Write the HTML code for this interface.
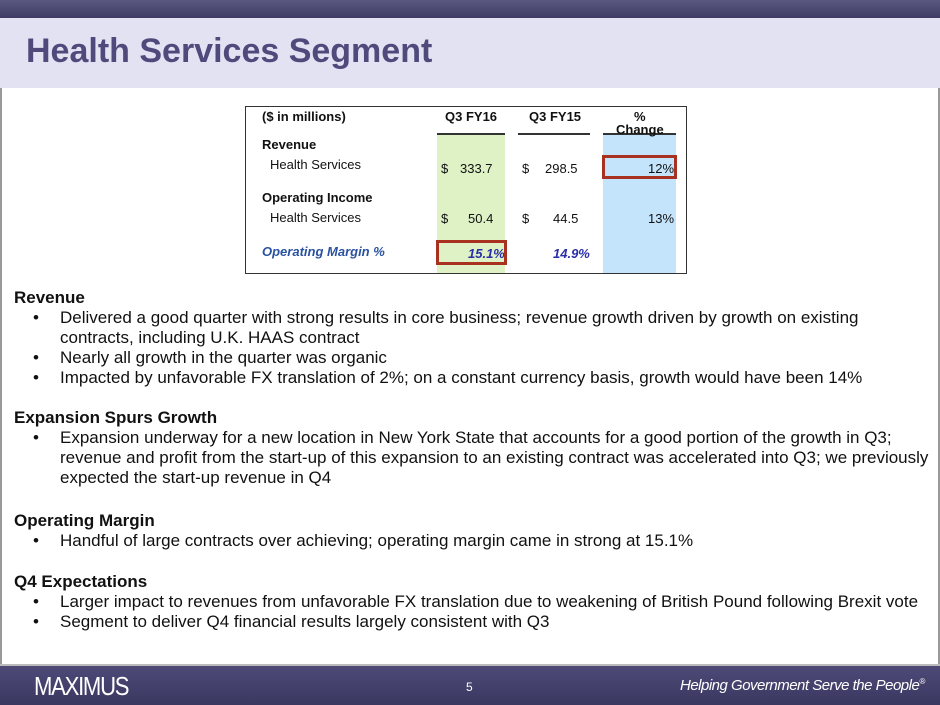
<!DOCTYPE html>
<html><head><style>
*{margin:0;padding:0;box-sizing:border-box}
body{width:940px;height:705px;position:relative;background:#fff;font-family:"Liberation Sans",Arial,sans-serif;overflow:hidden}
.a{position:absolute;white-space:nowrap}
.t{font-size:13px;color:#111}
.b{font-weight:bold}
.body{font-size:17px;color:#111}
</style></head><body>
<div class="a" style="left:0;top:0;width:940px;height:705px;border-left:2px solid #999;border-right:2px solid #999"></div>
<div class="a" style="left:0;top:0;width:940px;height:18px;background:linear-gradient(#5a5880,#3e3b64)"></div>
<div class="a" style="left:0;top:18px;width:940px;height:70px;background:#e3e2f3"></div>
<div class="a b" style="left:26px;top:32px;font-size:34px;color:#504a7c">Health Services Segment</div>

<div class="a" style="left:245px;top:106px;width:442px;height:168px;border:1.5px solid #333"></div>
<div class="a" style="left:437px;top:135px;width:68px;height:138px;background:#def2c6"></div>
<div class="a" style="left:603px;top:135px;width:73px;height:138px;background:#c4e4fc"></div>
<div class="a" style="left:437px;top:133px;width:68px;height:2px;background:#333"></div>
<div class="a" style="left:518px;top:133px;width:72px;height:2px;background:#333"></div>
<div class="a" style="left:603px;top:133px;width:73px;height:2px;background:#333"></div>
<div class="a t b" style="left:262px;top:109px">($ in millions)</div>
<div class="a t b" style="left:445px;top:109px">Q3 FY16</div>
<div class="a t b" style="left:529px;top:109px">Q3 FY15</div>
<div class="a t b" style="left:634px;top:109px">%</div>
<div class="a t b" style="left:616px;top:122px">Change</div>
<div class="a t b" style="left:262px;top:137px">Revenue</div>
<div class="a t" style="left:270px;top:157px">Health Services</div>
<div class="a t" style="left:441px;top:161px">$</div>
<div class="a t" style="left:460px;top:161px">333.7</div>
<div class="a t" style="left:522px;top:161px">$</div>
<div class="a t" style="left:545px;top:161px">298.5</div>
<div class="a t" style="left:648px;top:161px">12%</div>
<div class="a" style="left:602px;top:155px;width:75px;height:24px;border:3px solid #a8321f"></div>
<div class="a t b" style="left:262px;top:190px">Operating Income</div>
<div class="a t" style="left:270px;top:210px">Health Services</div>
<div class="a t" style="left:441px;top:211px">$</div>
<div class="a t" style="left:468px;top:211px">50.4</div>
<div class="a t" style="left:522px;top:211px">$</div>
<div class="a t" style="left:553px;top:211px">44.5</div>
<div class="a t" style="left:648px;top:211px">13%</div>
<div class="a t b" style="left:262px;top:244px;color:#2a52a0;font-style:italic">Operating Margin %</div>
<div class="a t b" style="left:468px;top:246px;color:#2a2ea8;font-style:italic">15.1%</div>
<div class="a t b" style="left:553px;top:246px;color:#2a2ea8;font-style:italic">14.9%</div>
<div class="a" style="left:436px;top:240px;width:71px;height:25px;border:3px solid #a8321f"></div>

<div class="a body b" style="left:14px;top:288px">Revenue</div>
<div class="a body" style="left:33px;top:308px">•</div><div class="a body" style="left:60px;top:308px">Delivered a good quarter with strong results in core business; revenue growth driven by growth on existing</div>
<div class="a body" style="left:60px;top:328px">contracts, including U.K. HAAS contract</div>
<div class="a body" style="left:33px;top:348px">•</div><div class="a body" style="left:60px;top:348px">Nearly all growth in the quarter was organic</div>
<div class="a body" style="left:33px;top:368px">•</div><div class="a body" style="left:60px;top:368px">Impacted by unfavorable FX translation of 2%; on a constant currency basis, growth would have been 14%</div>
<div class="a body b" style="left:14px;top:408px">Expansion Spurs Growth</div>
<div class="a body" style="left:33px;top:428px">•</div><div class="a body" style="left:60px;top:428px">Expansion underway for a new location in New York State that accounts for a good portion of the growth in Q3;</div>
<div class="a body" style="left:60px;top:448px">revenue and profit from the start-up of this expansion to an existing contract was accelerated into Q3; we previously</div>
<div class="a body" style="left:60px;top:468px">expected the start-up revenue in Q4</div>
<div class="a body b" style="left:14px;top:511px">Operating Margin</div>
<div class="a body" style="left:33px;top:531px">•</div><div class="a body" style="left:60px;top:531px">Handful of large contracts over achieving; operating margin came in strong at 15.1%</div>
<div class="a body b" style="left:14px;top:572px">Q4 Expectations</div>
<div class="a body" style="left:33px;top:592px">•</div><div class="a body" style="left:60px;top:592px">Larger impact to revenues from unfavorable FX translation due to weakening of British Pound following Brexit vote</div>
<div class="a body" style="left:33px;top:612px">•</div><div class="a body" style="left:60px;top:612px">Segment to deliver Q4 financial results largely consistent with Q3</div>

<div class="a" style="left:0;top:664px;width:940px;height:2px;background:#bbb"></div>
<div class="a" style="left:0;top:666px;width:940px;height:39px;background:linear-gradient(#4e4a78,#3a3760)"></div>
<div class="a" style="left:34px;top:671px;font-size:26px;color:#fff;letter-spacing:-1.5px;transform:scaleX(0.85);transform-origin:left">MAXIMUS</div>
<div class="a" style="left:466px;top:680px;font-size:12px;color:#fff">5</div>
<div class="a" style="left:680px;top:677px;font-size:15px;color:#fff;font-style:italic;letter-spacing:-0.5px">Helping Government Serve the People<sup style="font-size:8px">®</sup></div>
</body></html>
